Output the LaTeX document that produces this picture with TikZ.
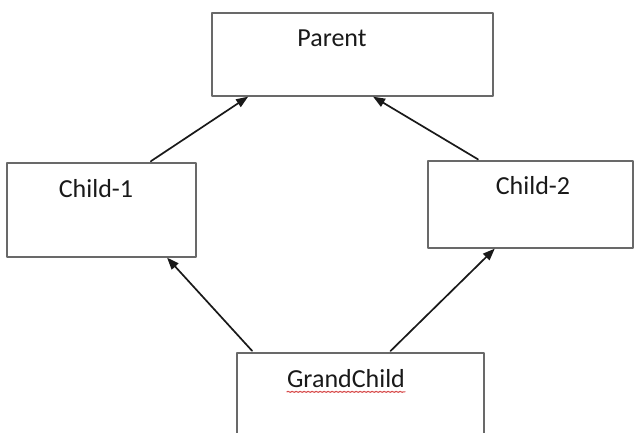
\documentclass[tikz,border=0pt]{standalone}
\usepackage{fontspec}
\setmainfont{Carlito}
\usetikzlibrary{arrows.meta,decorations.pathmorphing}
\definecolor{boxline}{RGB}{105,105,105}
\definecolor{spellred}{RGB}{215,75,75}
\begin{document}
\begin{tikzpicture}[x=1pt,y=-1pt,line join=round,line cap=round,
	font=\fontsize{26}{30}\selectfont,
	box/.style={draw=boxline,line width=1.3pt,inner sep=0pt},
	lbl/.style={inner sep=0pt,text=black!90},
	link/.style={-{Triangle[length=12pt,width=9pt]},line width=1.7pt,black!90,shorten <=2pt},
	spell/.style={spellred,line width=1.1pt,decorate,decoration={snake,amplitude=0.5pt,segment length=4pt}}]
	\clip (0,0) rectangle (635,432);
	% boxes
	\node[box,minimum width=281pt,minimum height=83pt] (par) at (352.5,54.5) {};
	\node[box,minimum width=189pt,minimum height=94pt] (c1) at (101.5,210) {};
	\node[box,minimum width=205pt,minimum height=87pt] (c2) at (530.5,204.5) {};
	\node[box,minimum width=247pt,minimum height=94pt] (gc) at (360.5,400) {};
	% labels
	\path
	(332,38) node[lbl] (tpar) {Parent}
	(96,189) node[lbl] (tc1) {Child-1}
	(533,186) node[lbl] (tc2) {Child-2}
	(346,379) node[lbl] (tgc) {GrandChild}
	;
	\draw[spell] ([yshift=-3.5pt]tgc.south west) -- ([yshift=-3.5pt]tgc.south east);
	% arrows
	\draw[link] (c1.45) -- (par.202);
	\draw[link] (c2.139) -- (par.296);
	\draw[link] (gc.156) -- (c1.324);
	\draw[link] (gc.59) -- (c2.231);
\end{tikzpicture}
\end{document}
